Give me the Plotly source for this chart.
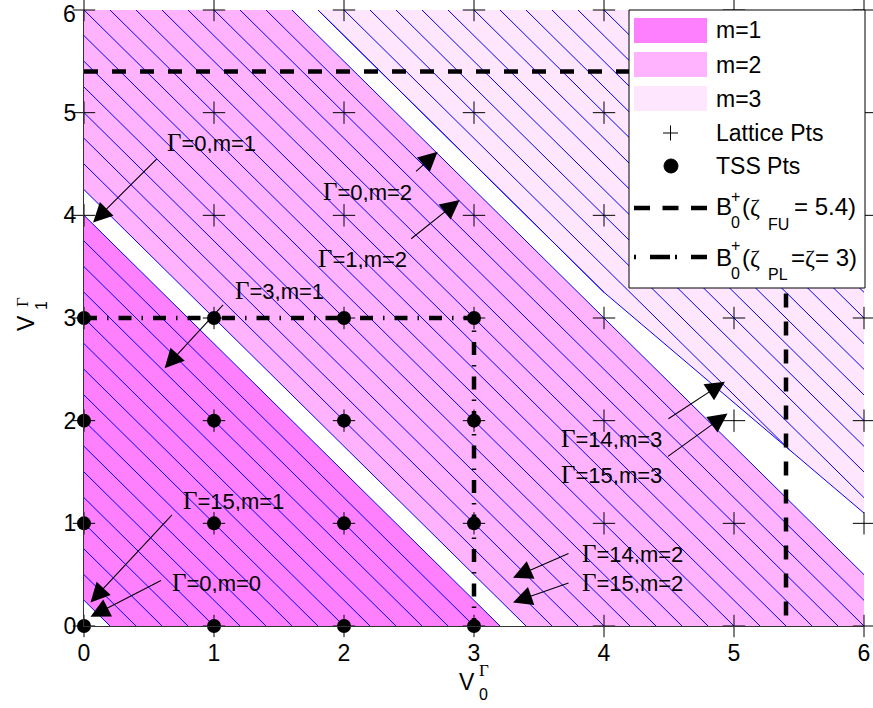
import numpy as np
import plotly.graph_objects as go

# ---------------- data ----------------
region_names = ["m=1", "m=2", "m=3"]
region_colors = ["#FF80FF", "#FFB3FF", "#FFE6FF"]
band_coef = 1.25                 # region boundaries: band_coef*V0 + V1 = const
band_lo = [0.25, 4.25]           # m=1, m=2 lower constants
band_hi = [4.0, 8.0]             # m=1, m=2 upper constants
m3_lower_v0 = [1.8, 4.0, 6.0]    # lower boundary of m=3 region
m3_lower_v1 = [6.0, 3.25, 1.1]
hatch_step = 0.25
v_min, v_max = 0.0, 6.0
lattice_vals = [0, 1, 2, 3, 4, 5, 6]
tss_vals = [0, 1, 2, 3]
tick_vals = [0, 1, 2, 3, 4, 5, 6]
zeta_FU = 5.4
zeta_PL = 3.0

ann_gamma = [0, 0, 1, 3, 15, 0, 14, 15, 14, 15]
ann_m = [1, 2, 2, 1, 1, 0, 2, 2, 3, 3]
ann_label_v0 = [0.98, 2.18, 2.14, 1.50, 1.15, 1.02, 4.22, 4.22, 4.06, 4.06]
ann_label_v1 = [4.71, 4.24, 3.58, 3.27, 1.23, 0.43, 0.71, 0.43, 1.83, 1.48]
ann_head_v0 = [0.07, 2.72, 2.89, 0.62, 0.05, 0.05, 3.30, 3.30, 4.93, 4.95]
ann_head_v1 = [3.93, 4.62, 4.15, 2.51, 0.23, 0.09, 0.47, 0.23, 2.38, 2.07]
ann_tail_dx = [65, -23, -50, 60, 83, 72, 57, 57, -58, -61]
ann_tail_dy = [-65, 21, 40, -65, -89, -37, -25, -20, 38, 44]

# ---------------- geometry helpers ----------------
def clip_halfplane(poly, a, b, c, sign):
    out = []
    n = len(poly)
    for i in range(n):
        p, q = poly[i], poly[(i + 1) % n]
        fp = sign * (a * p[0] + b * p[1] - c)
        fq = sign * (a * q[0] + b * q[1] - c)
        if fp >= 0:
            out.append(p)
        if (fp >= 0) != (fq >= 0):
            t = fp / (fp - fq)
            out.append((p[0] + t * (q[0] - p[0]), p[1] + t * (q[1] - p[1])))
    return out

box = [(v_min, v_min), (v_max, v_min), (v_max, v_max), (v_min, v_max)]
polys = []
for lo, hi in zip(band_lo, band_hi):
    p = clip_halfplane(box, band_coef, 1.0, lo, +1)
    p = clip_halfplane(p, band_coef, 1.0, hi, -1)
    polys.append(p)
polys.append(list(zip(m3_lower_v0, m3_lower_v1)) + [(v_max, v_max)])

def box_segment(c):
    x0 = max(v_min, (c - v_max) / band_coef)
    x1 = min(v_max, (c - v_min) / band_coef)
    if x1 - x0 < 1e-6:
        return None
    return x0, x1

hx, hy = [], []
for lo, hi in zip(band_lo, band_hi):
    for c in np.arange(lo, hi + 1e-9, hatch_step):
        s = box_segment(c)
        if s is None:
            continue
        hx += [s[0], s[1], None]
        hy += [c - band_coef * s[0], c - band_coef * s[1], None]

c3_lo = min(band_coef * a + b for a, b in zip(m3_lower_v0, m3_lower_v1))
c_top = band_coef * v_max + v_max
for c in np.arange(c3_lo, c_top, hatch_step):
    s = box_segment(c)
    if s is None:
        continue
    xs = np.linspace(s[0], s[1], 3001)
    ys = c - band_coef * xs
    low = np.interp(xs, m3_lower_v0, m3_lower_v1, left=np.inf)
    ok = np.where(ys >= low - 1e-6)[0]
    if len(ok) < 2:
        continue
    hx += [xs[ok[0]], xs[ok[-1]], None]
    hy += [ys[ok[0]], ys[ok[-1]], None]
hx += list(m3_lower_v0) + [None]
hy += list(m3_lower_v1) + [None]

# ---------------- figure ----------------
fig = go.Figure()
for poly, col, name in zip(polys, region_colors, region_names):
    xs = [p[0] for p in poly] + [poly[0][0]]
    ys = [p[1] for p in poly] + [poly[0][1]]
    fig.add_trace(go.Scatter(x=xs, y=ys, mode="lines", fill="toself", fillcolor=col,
                             line=dict(width=0, color=col), name=name, hoverinfo="skip"))

fig.add_trace(go.Scatter(x=hx, y=hy, mode="lines", line=dict(color="#0000FF", width=1),
                         hoverinfo="skip", name="hatch"))

fig.add_trace(go.Scatter(x=[v_min, zeta_FU, zeta_FU], y=[zeta_FU, zeta_FU, v_min], mode="lines",
                         line=dict(color="black", width=4.5, dash="14px,14px"), cliponaxis=False,
                         name="FU"))
fig.add_trace(go.Scatter(x=[v_min, zeta_PL, zeta_PL], y=[zeta_PL, zeta_PL, v_min], mode="lines",
                         line=dict(color="black", width=4.5, dash="13px,10px,1.5px,10px"),
                         cliponaxis=False, name="PL"))

tx = [a for a in tss_vals for b in tss_vals]
ty = [b for a in tss_vals for b in tss_vals]
fig.add_trace(go.Scatter(x=tx, y=ty, mode="markers", cliponaxis=False, name="TSS Pts",
                         marker=dict(symbol="circle", size=14, color="black")))
lx = [a for a in lattice_vals for b in lattice_vals]
ly = [b for a in lattice_vals for b in lattice_vals]
fig.add_trace(go.Scatter(x=lx, y=ly, mode="markers", cliponaxis=False, name="Lattice Pts",
                         marker=dict(symbol="cross-thin", size=16, line=dict(color="black", width=1))))

# ---------------- layout ----------------
W, H = 873, 708
PL, PR, PT, PB = 84, 864, 10, 626
def px(x):
    return (x - PL) / (PR - PL)
def py(y):
    return (PB - y) / (PB - PT)

SANS = "Liberation Sans, Arial, sans-serif"
def serif(s, size=None):
    st = "font-family:Liberation Serif,Times New Roman,serif"
    if size:
        st += ";font-size:%dpx" % size
    return '<span style="' + st + '">' + s + '</span>'

annotations = []
for g, m, lx0, ly0, hx0, hy0, dx, dy in zip(ann_gamma, ann_m, ann_label_v0, ann_label_v1,
                                           ann_head_v0, ann_head_v1, ann_tail_dx, ann_tail_dy):
    annotations.append(dict(x=lx0, y=ly0, xref="x", yref="y", showarrow=False,
                            text=serif("Γ", 25) + "=%d,m=%d" % (g, m),
                            font=dict(family=SANS, size=22, color="black"),
                            height=22, valign="middle", borderpad=0,
                            xanchor="center", yanchor="middle"))
    annotations.append(dict(x=hx0, y=hy0, xref="x", yref="y", ax=dx, ay=dy, text=" ",
                            font=dict(size=1), showarrow=True, arrowhead=2, arrowsize=3.5,
                            arrowwidth=1.1, arrowcolor="black", standoff=0))

def ptext(x, y, text, size, anchor="left", angle=0):
    annotations.append(dict(x=px(x), y=py(y), xref="paper", yref="paper", text=text,
                            showarrow=False, xanchor=anchor, yanchor="middle", textangle=angle,
                            font=dict(family=SANS, size=size, color="black")))

# top y tick label, nudged down to stay inside the page as in the reference
ptext(78, 14, str(tick_vals[-1]), 23, "right")

# axis titles (stacked sub/superscripts)
ptext(467, 682, "V", 23, "center")
ptext(477, 670, serif("Γ"), 17)
ptext(477, 695, "0", 16)
ptext(26, 323, "V", 23, "center", -90)
ptext(22, 302, serif("Γ"), 17, "center", -90)
ptext(41, 306, "1", 16, "center", -90)

# custom legend
shapes = [dict(type="rect", xref="paper", yref="paper", x0=px(629), x1=px(865), y0=py(288), y1=py(10),
               fillcolor="white", line=dict(color="black", width=1), layer="above")]
sw_y = [30.5, 64.5, 98.5]
for yc, col, name in zip(sw_y, region_colors, region_names):
    shapes.append(dict(type="rect", xref="paper", yref="paper", x0=px(634), x1=px(707),
                       y0=py(yc + 12.5), y1=py(yc - 12.5), fillcolor=col, line=dict(width=0),
                       layer="above"))
    ptext(714, yc, name, 23)
shapes.append(dict(type="line", xref="paper", yref="paper", x0=px(663), x1=px(678), y0=py(133), y1=py(133),
                   line=dict(color="black", width=1), layer="above"))
shapes.append(dict(type="line", xref="paper", yref="paper", x0=px(670.5), x1=px(670.5), y0=py(125.5), y1=py(140.5),
                   line=dict(color="black", width=1), layer="above"))
ptext(714, 133, "Lattice Pts", 23)
shapes.append(dict(type="circle", xref="paper", yref="paper", x0=px(664), x1=px(678), y0=py(173), y1=py(159),
                   fillcolor="black", line=dict(color="black", width=1), layer="above"))
ptext(714, 166, "TSS Pts", 23)
shapes.append(dict(type="line", xref="paper", yref="paper", x0=px(634), x1=px(707), y0=py(208), y1=py(208),
                   line=dict(color="black", width=4.5, dash="16px,12.5px"), layer="above"))
shapes.append(dict(type="line", xref="paper", yref="paper", x0=px(634), x1=px(707), y0=py(257), y1=py(257),
                   line=dict(color="black", width=4.5, dash="2px,14px,20px,5px"), layer="above"))
ptext(714, 207, "B", 24)
ptext(729, 196, "+", 16)
ptext(729, 223, "0", 16)
ptext(740, 207, "(" + serif("ζ"), 24)
ptext(766, 224, "FU", 16)
ptext(792, 207, "= 5.4)", 24)
ptext(714, 257, "B", 24)
ptext(729, 246, "+", 16)
ptext(729, 273, "0", 16)
ptext(740, 257, "(" + serif("ζ"), 24)
ptext(766, 274, "PL", 16)
ptext(789, 257, "=" + serif("ζ") + "= 3)", 24)

axis_common = dict(range=[v_min, v_max], tickvals=tick_vals, showgrid=False, zeroline=False,
                   showline=True, linecolor="#333333", linewidth=1, ticks="",
                   ticklabeloverflow="allow", automargin=False,
                   tickfont=dict(family=SANS, size=23, color="black"), fixedrange=True)
fig.update_layout(
    width=W, height=H, autosize=False,
    margin=dict(l=PL, r=W - PR, t=PT, b=H - PB, pad=0, autoexpand=False),
    paper_bgcolor="white", plot_bgcolor="white",
    showlegend=False,
    xaxis=dict(**axis_common, ticklabelstandoff=6),
    yaxis=dict(**axis_common, ticklabelstandoff=2,
               ticktext=[str(v) for v in tick_vals[:-1]] + [""]),
    annotations=annotations, shapes=shapes,
)
fig.write_html("out.html")
